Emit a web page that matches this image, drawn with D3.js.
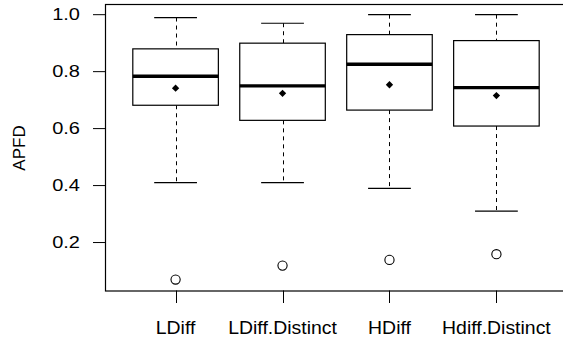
<!DOCTYPE html>
<html>
<head>
<meta charset="utf-8">
<script src="https://cdn.jsdelivr.net/npm/d3@7"></script>
<style>
  body { margin: 0; background: #fff; }
  text { font-family: "Liberation Sans", Arial, Helvetica, sans-serif; fill: #000; }
</style>
</head>
<body>
<div id="chart"></div>
<script>
// data
const categories = ["LDiff", "LDiff.Distinct", "HDiff", "Hdiff.Distinct"];
const whiskerLow = [0.41, 0.41, 0.39, 0.31];
const q1 = [0.682, 0.629, 0.665, 0.609];
const median = [0.784, 0.75, 0.826, 0.744];
const q3 = [0.88, 0.90, 0.93, 0.909];
const whiskerHigh = [0.99, 0.97, 1.0, 1.0];
const means = [0.742, 0.724, 0.754, 0.716];
const outliers = [0.07, 0.119, 0.139, 0.159];
const yTicks = [0.2, 0.4, 0.6, 0.8, 1.0];

const width = 563, height = 343;
const plotLeft = 105, plotTop = 4, plotRight = 567, plotBottom = 290.5;

const $svg = d3.select("#chart")
    .append("svg")
    .attr("width", width)
    .attr("height", height);

const x = d3.scalePoint()
    .domain(categories)
    .range([plotLeft, plotRight])
    .padding(0.66);
const step = x.step();
const boxW = step * 0.8, capW = step * 0.4;

const y = d3.scaleLinear()
    .domain([0.0316, 1.0375])
    .range([plotBottom, plotTop]);

const rows = categories.map((c, i) => ({
    name: c, lo: whiskerLow[i], q1: q1[i], med: median[i], q3: q3[i],
    hi: whiskerHigh[i], mean: means[i], out: outliers[i]
}));

const g = $svg.selectAll("g.box")
    .data(rows)
    .enter()
    .append("g")
    .attr("class", "box");

// whiskers (dashed)
g.append("line")
    .attr("x1", d => Math.round(x(d.name)) + 0.5)
    .attr("x2", d => Math.round(x(d.name)) + 0.5)
    .attr("y1", d => y(d.hi))
    .attr("y2", d => y(d.q3))
    .attr("stroke", "#000")
    .attr("stroke-dasharray", "4,4");
g.append("line")
    .attr("x1", d => Math.round(x(d.name)) + 0.5)
    .attr("x2", d => Math.round(x(d.name)) + 0.5)
    .attr("y1", d => y(d.q1))
    .attr("y2", d => y(d.lo))
    .attr("stroke", "#000")
    .attr("stroke-dasharray", "4,4");

// staples
[d => d.hi, d => d.lo].forEach(f => {
    g.append("line")
        .attr("x1", d => x(d.name) - capW / 2)
        .attr("x2", d => x(d.name) + capW / 2)
        .attr("y1", d => y(f(d)))
        .attr("y2", d => y(f(d)))
        .attr("stroke", "#000")
        .attr("stroke-width", 1.2);
});

// box
g.append("rect")
    .attr("x", d => x(d.name) - boxW / 2)
    .attr("y", d => y(d.q3))
    .attr("width", boxW)
    .attr("height", d => y(d.q1) - y(d.q3))
    .attr("fill", "#fff")
    .attr("stroke", "#000")
    .attr("stroke-width", 1.2);

// median
g.append("line")
    .attr("x1", d => x(d.name) - boxW / 2)
    .attr("x2", d => x(d.name) + boxW / 2)
    .attr("y1", d => y(d.med))
    .attr("y2", d => y(d.med))
    .attr("stroke", "#000")
    .attr("stroke-width", 3.4);

// mean diamond
g.append("path")
    .attr("d", d3.symbol(d3.symbolDiamond2, 34))
    .attr("transform", d => `translate(${x(d.name)},${y(d.mean)})`)
    .attr("fill", "#000");

// outliers
g.append("circle")
    .attr("cx", d => x(d.name))
    .attr("cy", d => y(d.out))
    .attr("r", 4.6)
    .attr("fill", "none")
    .attr("stroke", "#000")
    .attr("stroke-width", 1.1);

// frame
$svg.append("rect")
    .attr("x", plotLeft + 0.5)
    .attr("y", plotTop + 0.5)
    .attr("width", plotRight - plotLeft)
    .attr("height", plotBottom - plotTop)
    .attr("fill", "none")
    .attr("stroke", "#000")
    .attr("stroke-width", 1.2);

// y axis
const yAxis = $svg.append("g");
yTicks.forEach(t => {
    yAxis.append("line")
        .attr("x1", plotLeft - 12)
        .attr("x2", plotLeft)
        .attr("y1", y(t))
        .attr("y2", y(t))
        .attr("stroke", "#000");
    yAxis.append("text")
        .attr("transform", `translate(80,${y(t)}) scale(1.25,1)`)
        .attr("text-anchor", "end")
        .attr("dy", "0.36em")
        .attr("font-size", 16)
        .text(t.toFixed(1));
});

$svg.append("text")
    .attr("transform", `translate(24.5,148) rotate(-90)`)
    .attr("text-anchor", "middle")
    .attr("font-size", 17)
    .text("APFD");

// x axis
categories.forEach(c => {
    $svg.append("line")
        .attr("x1", Math.round(x(c)) + 0.5)
        .attr("x2", Math.round(x(c)) + 0.5)
        .attr("y1", plotBottom)
        .attr("y2", plotBottom + 12.5)
        .attr("stroke", "#000");
    $svg.append("text")
        .attr("transform", `translate(${x(c)},334) scale(1.08,1)`)
        .attr("text-anchor", "middle")
        .attr("font-size", 18)
        .text(c);
});
</script>
</body>
</html>
